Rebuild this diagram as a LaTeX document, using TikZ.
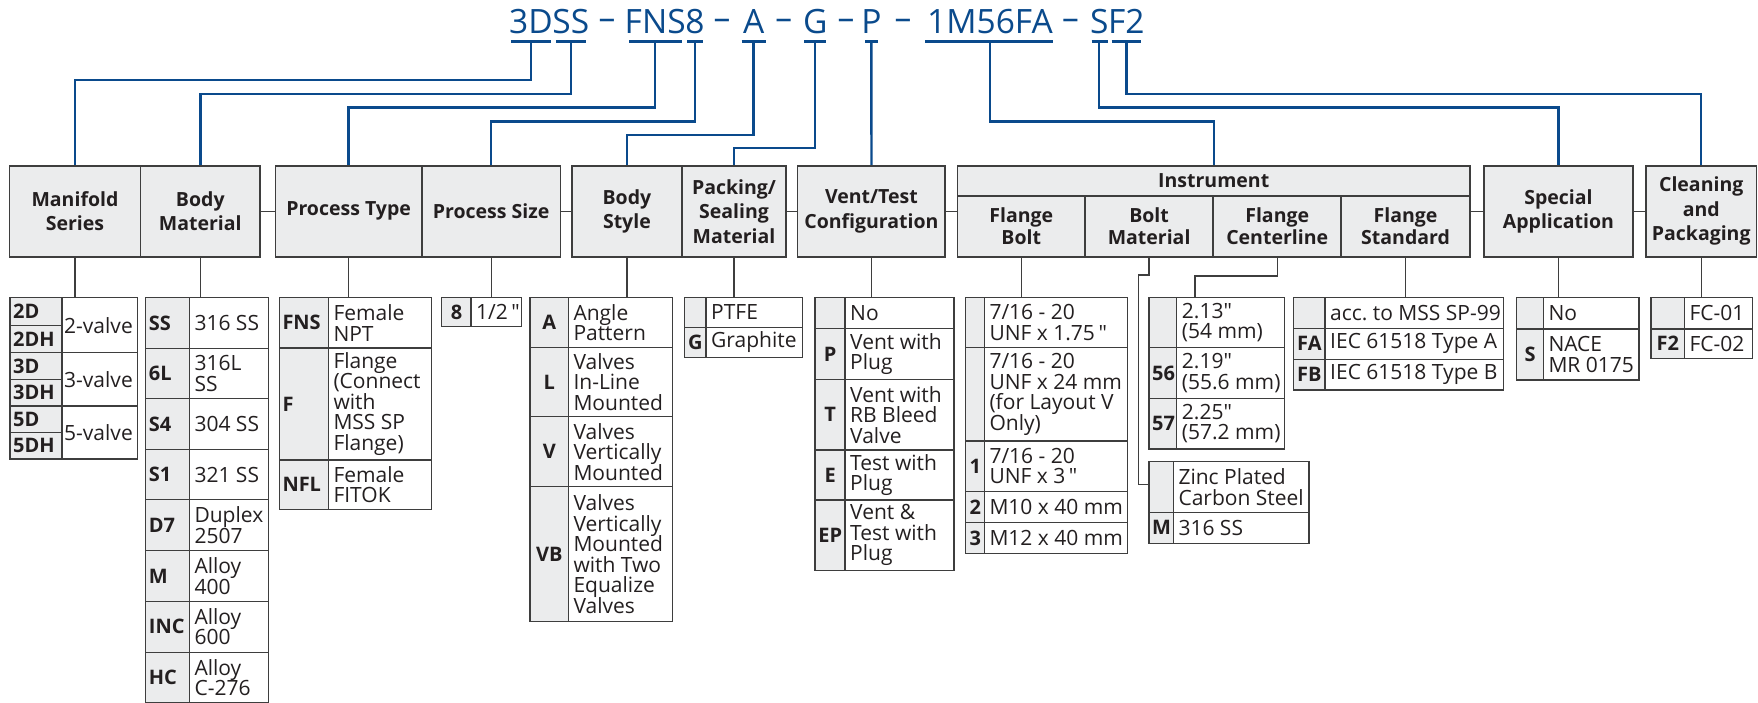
\documentclass[tikz,border=0pt]{standalone}
\usepackage{fontspec}
\setmainfont{Open Sans}[Ligatures=TeXOff]

\definecolor{codeblue}{RGB}{10,74,140}
\definecolor{cellfill}{RGB}{235,236,237}
\definecolor{boxline}{RGB}{62,62,62}
\definecolor{txt}{RGB}{35,31,32}

\tikzset{
  codetxt/.style={anchor=base, inner sep=0pt, text=codeblue, font=\fontsize{33.5}{40}\selectfont},
  uline/.style={draw=codeblue, line width=2.5pt},
  codeline/.style={draw=codeblue, line width=2.4pt},
  gline/.style={draw=boxline, line width=1.3pt},
  hdr/.style={draw=boxline, fill=cellfill, line width=1.7pt, text=txt, align=center,
    inner sep=0pt, minimum height=91pt, font=\bfseries\fontsize{19.5}{24.5}\selectfont},
  subhdr/.style={hdr, minimum height=61pt, font=\bfseries\fontsize{19.5}{22}\selectfont},
  cellline/.style={draw=boxline, line width=1.4pt},
  codecell/.style={anchor=west, inner xsep=3pt, inner ysep=0pt, text=txt,
    font=\bfseries\fontsize{20}{20}\selectfont},
  desccell/.style={anchor=west, inner xsep=5pt, inner ysep=0pt, text=txt, align=left,
    font={\fontsize{21}{20.5}\selectfont\lineskiplimit=-20pt}},
}

% option table: name, code align, x0, x1, x2, top, rows (bottom/code/text)
\newcommand\opttab[7]{%
  \pgfmathsetmacro\cw{#4-#3-6}
  \foreach \yb/\cd/\ds [count=\i, remember=\yb as \ya (initially #6)] in {#7}{
    \fill[cellfill] (#3,\ya) rectangle (#4,\yb);
    \draw[cellline] (#3,\ya) rectangle (#5,\yb) (#4,\ya) -- (#4,\yb);
    \node[codecell, text width=\cw pt, align=#2] (#1c\i) at (#3,{(\ya+\yb)/2}) {\cd};
    \node[desccell] (#1d\i) at (#4,{(\ya+\yb)/2}) {\ds};
  }}

\begin{document}
\begin{tikzpicture}[x=1pt,y=-1pt]
  \useasboundingbox (0,0) rectangle (1758,703);

  % Ordering code
  \node[codetxt] (c3D) at (530.9,33.3) {3D};
  \node[codetxt] (cSS) at (570.8,33.3) {SS};
  \node[codetxt] (cFNS) at (655.2,33.3) {FNS};
  \node[codetxt] (c8) at (695,33.3) {8};
  \node[codetxt] (cA) at (753.6,33.3) {A};
  \node[codetxt] (cG) at (815.2,33.3) {G};
  \node[codetxt] (cP) at (871.4,33.3) {P};
  \node[codetxt] (c1M) at (990,33.3) {1M56FA};
  \node[codetxt] (cS) at (1099.2,33.3) {S};
  \node[codetxt] (cF2) at (1126.4,33.3) {F2};
  \foreach \x [count=\i] in {607,722,783.7,846,903,1070.5}
    \node[codetxt] (dash\i) at (\x,29.5) {–};

  % Underlines
  \foreach \xa/\xb in {510.8/551, 556/585.5, 629.3/681.7, 687.3/703.3, 741.7/765.7,
      804.3/826, 865/878.3, 925/1053.3, 1091.7/1107.5, 1111.5/1140.5}
    \draw[uline] (\xa,41.7) -- (\xb,41.7);

  % Headings
  \node[hdr, minimum width=130.8pt] (mf) at (75,211.2) {Manifold\\Series};
  \node[hdr, minimum width=119.8pt] (bm) at (200.3,211.2) {Body\\Material};
  \node[hdr, minimum width=146.2pt] (pt) at (348.6,211.2) {Process Type};
  \node[hdr, minimum width=138.9pt] (ps) at (491.15,211.2) {Process Size};
  \node[hdr, minimum width=110.2pt] (bs) at (626.9,211.2) {Body\\Style};
  \node[hdr, minimum width=104.1pt] (pk) at (734.05,211.2) {Packing/\\Sealing\\Material};
  \node[hdr, minimum width=147.7pt] (vt) at (871.45,211.2) {Vent/Test\\Configuration};
  \node[hdr, minimum width=512.4pt, minimum height=30pt] (ins) at (1213.7,180.7) {Instrument};
  \node[subhdr, minimum width=127.5pt] (fb) at (1021.25,226.2) {Flange\\Bolt};
  \node[subhdr, minimum width=128.2pt] (bl) at (1149.1,226.2) {Bolt\\Material};
  \node[subhdr, minimum width=128pt] (fc) at (1277.2,226.2) {Flange\\Centerline};
  \node[subhdr, minimum width=128.7pt] (fs) at (1405.55,226.2) {Flange\\Standard};
  \node[hdr, minimum width=148.5pt] (sa) at (1558.45,211.2) {Special\\Application};
  \node[hdr, minimum width=110.6pt] (cp) at (1701.2,211.2) {Cleaning\\and\\Packaging};

  % Code to heading
  \coordinate (ul) at (0,41.7);
  \foreach \lv/\y in {a/80, b/94, c/107.7, d/121.7, e/135, f/148.3}
    \coordinate (lv\lv) at (0,\y);
  \foreach \c/\lv/\h in {3D/a/mf, SS/b/bm, FNS/c/pt, 8/d/ps, A/e/bs, G/f/pk,
      1M/d/ins, S/c/sa, F2/b/cp}
    \draw[codeline] (c\c.base |- ul) -- (c\c.base |- lv\lv) -| (\h.north);
  \draw[codeline] (cP.base |- ul) -- (vt.north);

  % Links between headings
  \draw[gline] (bm.east) -- (pt.west);
  \draw[gline] (ps.east) -- (bs.west);
  \draw[gline] (pk.east) -- (vt.west);
  \draw[gline] (vt.east) -- (vt.east -| fb.west);
  \draw[gline] (sa.west -| fs.east) -- (sa.west);
  \draw[gline] (sa.east) -- (cp.west);

  % Heading to table
  \coordinate (tabtop) at (0,297.7);
  \foreach \h in {mf,bm,pt,ps,bs,pk,vt,fb,fs,sa,cp}
    \draw[gline] (\h.south) -- (\h.south |- tabtop);
  \draw[gline] (bl.south) |- (1138.3,275) |- (1149,484.3);
  \draw[gline] (fc.south) |- (1195,276) -- (1195,297.7);

  % Manifold series
  \foreach \ya/\yb/\cd [count=\i] in {297.7/325.3/2D, 325.3/352.7/2DH, 352.7/379.7/3D,
      379.7/406/3DH, 406/432.3/5D, 432.3/459/5DH}{
    \fill[cellfill] (10,\ya) rectangle (62,\yb);
    \draw[cellline] (10,\ya) rectangle (62,\yb);
    \node[codecell, text width=46pt, align=left] (mfc\i) at (10,{(\ya+\yb)/2}) {\cd};
  }
  \foreach \ya/\yb/\ds [count=\i] in {297.7/352.7/2-valve, 352.7/406/3-valve, 406/459/5-valve}{
    \draw[cellline] (62,\ya) rectangle (137.3,\yb);
    \node[desccell, inner xsep=2pt] (mfd\i) at (62,{(\ya+\yb)/2}) {\ds};
  }

  % Other tables
  \opttab{bmt}{left}{145.7}{189.3}{268.3}{297.7}{348.3/SS/316 SS, 398.7/6L/{316L\\SS},
    449.3/S4/304 SS, 499.7/S1/321 SS, 550.7/D7/{Duplex\\2507}, 601.3/M/{Alloy\\400},
    652.3/INC/{Alloy\\600}, 702.7/HC/{Alloy\\C-276}}
  \opttab{ptt}{left}{279.3}{328.3}{431.7}{297.7}{348/FNS/{Female\\NPT},
    460/F/{Flange\\(Connect\\with\\MSS SP\\Flange)}, 509.7/NFL/{Female\\FITOK}}
  \opttab{pst}{center}{441.7}{471}{521.7}{297.7}{326.7/8/{1/2\,"}}
  \opttab{bst}{center}{530}{568.3}{672.7}{297.7}{347.3/A/{Angle\\Pattern},
    416.7/L/{Valves\\In-Line\\Mounted}, 486.7/V/{Valves\\Vertically\\Mounted},
    621.7/VB/{Valves\\Vertically\\Mounted\\with Two\\Equalize\\Valves}}
  \opttab{pkt}{center}{684.3}{706}{802.3}{297.7}{327.3/{}/PTFE, 357.3/G/Graphite}
  \opttab{vtt}{center}{815}{845}{954}{297.7}{328.7/{}/No, 379.3/P/{Vent with\\Plug},
    450/T/{Vent with\\RB Bleed\\Valve}, 500/E/{Test with\\Plug},
    570.7/EP/{Vent \&\\Test with\\Plug}}
  \opttab{fbt}{center}{965.7}{984.3}{1127.3}{297.7}{347.7/{}/{7/16 - 20\\UNF x 1.75\,"},
    441/{}/{7/16 - 20\\UNF x 24 mm\\(for Layout V\\Only)}, 491.3/1/{7/16 - 20\\UNF x 3\,"},
    522.7/2/M10 x 40 mm, 553.3/3/M12 x 40 mm}
  \opttab{blt}{center}{1149}{1173.3}{1309}{461.7}{512.3/{}/{Zinc Plated\\Carbon Steel},
    543.3/M/316 SS}
  \opttab{fct}{center}{1149}{1176.7}{1284.3}{297.7}{347.7/{}/{2.13"\\(54 mm)},
    398.3/56/{2.19"\\(55.6 mm)}, 449/57/{2.25"\\(57.2 mm)}}
  \opttab{fst}{center}{1293.3}{1325}{1503.3}{297.7}{328.3/{}/{acc.\ to MSS SP-99},
    359.3/FA/IEC 61518 Type A, 390/FB/IEC 61518 Type B}
  \opttab{sat}{center}{1516.7}{1543.3}{1639}{297.7}{329/{}/No, 380/S/{NACE\\MR 0175}}
  \opttab{cpt}{center}{1651}{1684.3}{1752.7}{297.7}{329/{}/FC-01, 358.3/F2/FC-02}
\end{tikzpicture}
\end{document}
